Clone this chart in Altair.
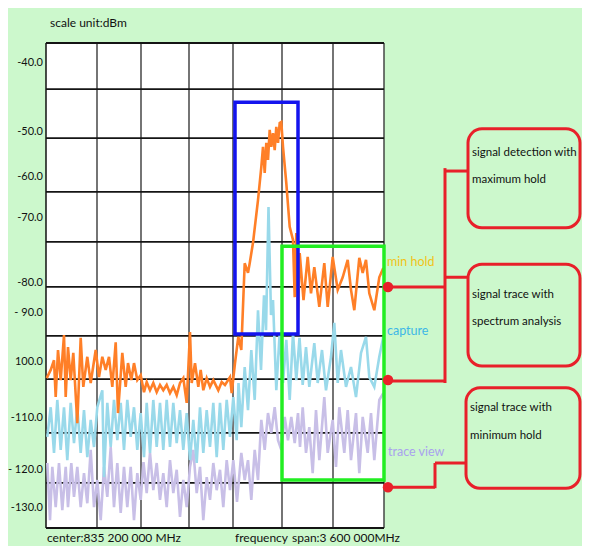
import altair as alt
import pandas as pd

# sweep bin (0..338 across the span) and level in dBm
max_hold_x = [0.7, 4.7, 8, 9.7, 12, 14.7, 18, 19.7, 22, 24.7, 27.3, 31.3, 34.7, 37.3, 41.3, 44.7, 49.7, 53,
              56.3, 59.7, 63, 66.3, 69.7, 72, 76.3, 79.7, 82, 85.3, 88, 91.3, 94.7, 98, 100.7, 104, 107.3,
              110.7, 114, 117.3, 120.7, 124, 127.3, 130.7, 134, 137.3, 140.7, 144, 145.7, 149, 152.3, 154.7,
              157.3, 160.7, 164, 167.3, 172.3, 175.7, 179, 184, 185.7, 189, 192.3, 195.3, 198.7, 202, 203.7,
              207, 212, 215.3, 217, 218.7, 220.3, 222, 223.7, 225.3, 227, 228.7, 230.3, 232, 233.7, 235.3,
              237, 240.3, 243.7, 247, 248.7, 250.3, 252, 253.7, 257.5, 261.7, 265, 268.3, 273.3, 278.3,
              281.7, 286.7, 291.7, 296.7, 301.7, 305, 308.3, 313.3, 316.7, 320, 323.3, 328.3, 333.3, 337.3]
max_hold_y = [-104.1, -102.4, -100.4, -108.0, -98.3, -104.5, -95.2, -108.0, -97.7, -104.5, -98.9, -113.4,
              -95.8, -105.9, -99.7, -105.1, -98.3, -103.9, -99.7, -102.4, -99.7, -105.9, -96.7, -111.3,
              -98.9, -105.9, -101.0, -104.5, -101.0, -104.5, -103.5, -107.0, -104.9, -106.6, -105.1, -107.0,
              -105.5, -106.6, -105.5, -107.2, -105.9, -107.6, -105.1, -104.1, -109.2, -94.6, -105.1, -101.0,
              -105.9, -102.4, -106.6, -104.1, -105.9, -104.5, -106.6, -104.9, -105.5, -103.9, -107.2, -101.0,
              -95.6, -98.3, -80.4, -82.4, -80.4, -76.2, -67.4, -60.6, -56.4, -61.8, -55.6, -59.1, -52.9,
              -56.4, -53.6, -57.1, -52.3, -55.6, -51.5, -51.3, -56.4, -63.9, -72.9, -75.6, -87.4, -74.2,
              -92.1, -78.3, -88.0, -79.1, -86.6, -81.2, -89.4, -80.4, -89.4, -79.1, -85.9, -83.3, -79.7,
              -85.9, -90.1, -79.3, -82.4, -79.7, -86.6, -90.1, -83.3, -81.4]

capture_x = [1.3, 4.7, 8, 11.3, 14.7, 18, 21.3, 24.7, 28, 31.3, 34.7, 38, 41.3, 44.7, 48, 51.3, 56.3, 58,
             61.3, 64.7, 68, 71.3, 74.7, 78, 81.3, 84.7, 88, 91.3, 94.7, 98, 100.7, 104, 107.3, 110.7, 114,
             117.3, 120.7, 124, 127.3, 130.7, 134, 137.3, 140.7, 144, 147.3, 150.7, 154, 157.3, 160.7, 164,
             167.3, 170.7, 174, 177.3, 180.7, 184, 187.3, 190.7, 192.5, 195.3, 198.7, 202, 205.3, 208.7,
             212, 215, 218, 220, 222.5, 225, 227, 230.3, 233.7, 237, 240.3, 243.7, 247, 250.3, 253.5,
             256.7, 260, 263.3, 268.3, 271.7, 276, 280, 285, 288.3, 291.7, 295, 300, 305, 310, 315, 320,
             323.3, 328.3, 333.3, 337.3]
capture_y = [-116.2, -110.1, -119.5, -108.6, -118.9, -110.1, -121.0, -109.2, -117.5, -110.1, -119.5, -110.7,
             -120.4, -112.7, -118.3, -110.1, -106.6, -124.5, -109.2, -118.3, -108.6, -116.9, -109.2, -118.9,
             -108.6, -116.2, -110.1, -118.9, -111.3, -120.4, -109.2, -119.5, -108.6, -118.3, -109.2, -118.9,
             -108.6, -118.3, -109.2, -117.5, -110.7, -118.9, -111.3, -121.0, -112.7, -121.6, -110.1, -119.5,
             -110.7, -118.3, -109.2, -120.4, -109.2, -118.9, -108.6, -116.2, -108.0, -116.9, -105.1, -114.2,
             -101.8, -110.7, -98.3, -108.6, -90.1, -102.4, -87.0, -94.2, -68.8, -91.1, -88.0, -106.6, -94.8,
             -105.1, -96.2, -108.6, -94.8, -104.5, -95.8, -105.5, -97.7, -105.9, -96.9, -105.1, -98.3,
             -106.6, -99.7, -92.7, -105.1, -98.3, -105.9, -101.8, -108.0, -98.9, -95.6, -103.9, -105.9,
             -99.7, -95.6]

trace_x = [1.3, 4, 6.3, 9.7, 13, 16.3, 19.7, 22, 25.3, 28, 31.3, 34.7, 38, 41.3, 44.7, 48, 51.3, 54.7, 58,
           61.3, 64.7, 68, 71.3, 74.7, 78, 81.3, 84.7, 88, 91.3, 94.7, 97.5, 100.7, 104, 107.3, 110.7, 114,
           117.3, 120.7, 124, 127.3, 130.7, 134, 137.3, 140.7, 144, 147.3, 150.7, 154, 157.3, 160.7, 164,
           167.3, 170.7, 174, 177.3, 180.7, 184, 187.3, 191, 195.3, 198.7, 202, 205.3, 208.7, 212, 215.3,
           218.7, 222, 225.3, 228.7, 232, 235.3, 238.7, 242, 245.3, 248.7, 252, 254, 256.7, 260, 263.3,
           266.7, 270, 273.3, 278.3, 281.7, 286.7, 290, 293.3, 298.3, 301.7, 305, 310, 313.3, 316.7, 321.7,
           325, 328.3, 333.3, 337.3]
trace_y = [-121.6, -133.4, -122.4, -130.7, -121.6, -131.3, -122.4, -130.7, -121.6, -128.6, -122.4, -130.7,
           -123.7, -129.9, -118.9, -130.7, -125.1, -133.4, -122.4, -128.6, -118.3, -130.7, -121.6, -131.9,
           -122.4, -130.7, -122.4, -133.4, -123.7, -129.2, -121.4, -127.8, -119.5, -127.2, -121.6, -129.2,
           -123.7, -130.7, -121.0, -127.8, -123.0, -132.7, -125.1, -130.7, -122.4, -118.9, -127.8, -122.4,
           -133.4, -124.5, -129.2, -121.6, -127.2, -123.0, -130.7, -121.0, -127.2, -121.0, -129.6, -119.5,
           -125.1, -121.0, -129.2, -118.9, -125.1, -112.7, -118.9, -111.3, -115.4, -110.1, -116.9, -118.9,
           -112.1, -116.9, -112.1, -117.5, -111.3, -118.3, -110.1, -119.5, -114.2, -123.7, -110.7, -121.0,
           -108.0, -119.5, -112.7, -122.4, -110.1, -119.5, -110.7, -121.0, -111.3, -123.7, -112.1, -119.5,
           -111.3, -121.0, -108.6, -107.2]

# grid
grid_x = [0, 51, 95, 143, 187, 236, 287, 338]
grid_y = [-35, -44.5, -54.6, -65.7, -76.0, -85.3, -95.4, -104.3, -115.4, -125.7, -135]

# y tick labels (text, level where drawn)
ytick_text = ["-40.0", "-50.0", "-60.0", "-70.0", "-80.0", "-  90.0", "100.0", "-110.0", "- 120.0", "-130.0"]
ytick_pos = [-39.1, -53.3, -62.6, -71.1, -84.5, -90.7, -100.8, -112.4, -123.0, -130.9]

FONT = "Lato"
X_DOM = [0, 338]
Y_DOM = [-135, -35]
XS = alt.Scale(domain=X_DOM, nice=False, zero=False)
YS = alt.Scale(domain=Y_DOM, nice=False, zero=False)


def X(field="x"):
    return alt.X(f"{field}:Q", scale=XS, axis=None)


def Y(field="y"):
    return alt.Y(f"{field}:Q", scale=YS, axis=None)


def series(xs, ys):
    return pd.DataFrame({"x": xs, "y": ys, "i": range(len(xs))})


vgrid_df = pd.DataFrame({"x": grid_x, "y": Y_DOM[1], "y2": Y_DOM[0]})
hgrid_df = pd.DataFrame({"y": grid_y, "x": X_DOM[0], "x2": X_DOM[1]})

vgrid = alt.Chart(vgrid_df).mark_rule(strokeWidth=1.4).encode(
    x=X(), y=Y(), y2="y2:Q",
    color=alt.condition("datum.x == 0", alt.value("#000000"), alt.value("#3a3a3a")))
hgrid = alt.Chart(hgrid_df).mark_rule(strokeWidth=1.8, color="#141414").encode(
    y=Y(), x=X(), x2="x2:Q")

lav = alt.Chart(series(trace_x, trace_y)).mark_line(
    color="#C8BFE7", strokeWidth=2.6).encode(x=X(), y=Y(), order="i:Q")
cap = alt.Chart(series(capture_x, capture_y)).mark_line(
    color="#99D9EA", strokeWidth=2.6).encode(x=X(), y=Y(), order="i:Q")
mx = alt.Chart(series(max_hold_x, max_hold_y)).mark_line(
    color="#FF7F27", strokeWidth=2.6).encode(x=X(), y=Y(), order="i:Q")

# highlight boxes
boxes = pd.DataFrame({
    "x": [189, 236], "x2": [252, 338], "y": [-47.2, -76.9], "y2": [-95.0, -125.1],
    "c": ["#1414EE", "#22EE22"]})
box_l = alt.Chart(boxes).mark_rect(fillOpacity=0, strokeWidth=3.5).encode(
    x=X(), x2="x2:Q", y=Y(), y2="y2:Q", stroke=alt.Stroke("c:N", scale=None))

# annotation boxes on the right
notes = pd.DataFrame({
    "x": [422, 422, 420], "x2": [534, 534, 534],
    "y": [-52.7, -80.6, -106.1], "y2": [-73.1, -101.6, -126.8]})
note_l = alt.Chart(notes).mark_rect(fillOpacity=0, stroke="#E8202A", strokeWidth=3,
                                    cornerRadius=14).encode(x=X(), x2="x2:Q", y=Y(), y2="y2:Q")

links = pd.DataFrame({
    "x": [342, 342, 399, 399, 399, 342, 389, 389],
    "x2": [399, 399, 399, 422, 422, 389, 389, 420],
    "y": [-85.3, -104.7, -60.8, -61.4, -83.3, -126.6, -121.6, -121.6],
    "y2": [-85.3, -104.7, -105.1, -61.4, -83.3, -126.6, -126.8, -121.6]})
link_l = alt.Chart(links).mark_rule(color="#E8202A", strokeWidth=3).encode(
    x=X(), x2="x2:Q", y=Y(), y2="y2:Q")

dots = pd.DataFrame({"x": [342, 342, 342], "y": [-85.3, -104.5, -126.6]})
dot_l = alt.Chart(dots).mark_point(shape="circle", filled=True, size=110, color="#E8202A",
                                   opacity=1).encode(x=X(), y=Y())

note_text = pd.DataFrame({
    "x": [426, 426, 426, 426, 424, 424],
    "y": [-57.7, -63.2, -87.0, -92.5, -110.3, -116.0],
    "t": ["signal detection with", "maximum hold", "signal trace with", "spectrum analysis",
          "signal trace with", "minimum hold"]})
note_t = alt.Chart(note_text).mark_text(align="left", baseline="middle", font=FONT, fontSize=11.5,
                                        color="#111111").encode(x=X(), y=Y(), text="t:N")

series_text = pd.DataFrame({
    "x": [341, 341, 342], "y": [-80.2, -94.4, -119.3],
    "t": ["min hold", "capture", "trace view"],
    "c": ["#F2C318", "#3DB7E6", "#A9A2EE"]})
series_t = alt.Chart(series_text).mark_text(align="left", baseline="middle", font=FONT,
                                            fontSize=12.5).encode(
    x=X(), y=Y(), text="t:N", color=alt.Color("c:N", scale=None))

ytick_df = pd.DataFrame({"x": [-3] * len(ytick_pos), "y": ytick_pos, "t": ytick_text})
ytick_t = alt.Chart(ytick_df).mark_text(align="right", baseline="middle", font=FONT, fontSize=11,
                                        color="#111111").encode(x=X(), y=Y(), text="t:N")

other_text = pd.DataFrame({
    "x": [4, 1, 189, 246], "y": [-30.9, -137.1, -137.1, -137.1],
    "t": ["scale unit:dBm", "center:835 200 000 MHz", "frequency", "span:3 600 000MHz"]})
other_t = alt.Chart(other_text).mark_text(align="left", baseline="middle", font=FONT, fontSize=12,
                                          color="#111111").encode(x=X(), y=Y(), text="t:N")

chart = alt.layer(vgrid, hgrid, lav, cap, mx, box_l, link_l, dot_l, note_l, note_t, series_t,
                  ytick_t, other_t).properties(
    width=338, height=485, background="#CCF8CC",
    padding={"left": 38, "top": 35, "right": 198, "bottom": 18},
    autosize=alt.AutoSizeParams(type="none"),
).configure_view(fill="white", stroke=None)

chart.save("out.html", embed_options={"renderer": "svg", "actions": False})
